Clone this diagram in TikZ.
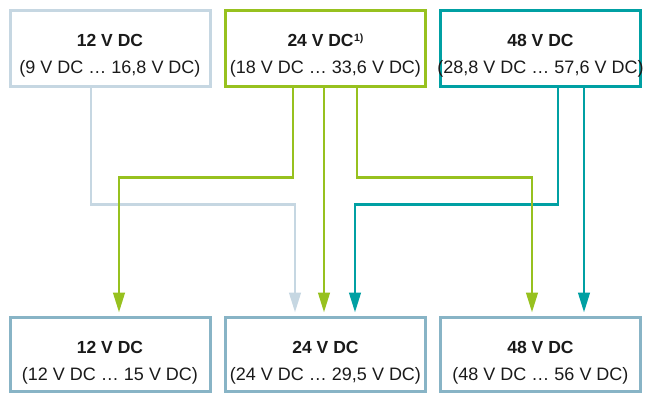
\documentclass[tikz,border=0pt]{standalone}
\usepackage{fontspec}
\setmainfont{Liberation Sans}
\usetikzlibrary{arrows.meta,calc}
\definecolor{cgrey}{HTML}{C6D7E2}
\definecolor{cgreen}{HTML}{97C11F}
\definecolor{cteal}{HTML}{00A0A3}
\definecolor{cblue}{HTML}{88B4C6}
\definecolor{ctext}{HTML}{1A1A1A}
\begin{document}
\begin{tikzpicture}[x=1pt,y=-1pt,
  box/.style={draw, line width=3pt, minimum width=200pt, minimum height=75.7pt, inner sep=0pt},
  dbox/.style={draw=cblue, line width=3pt, minimum width=200pt, minimum height=74pt, inner sep=0pt},
  ttl/.style={font=\fontsize{17.5}{20}\selectfont\bfseries, text=ctext, anchor=base, inner sep=0pt},
  sub/.style={font=\fontsize{18}{20}\selectfont, text=ctext, anchor=base, inner sep=0pt},
  conn/.style={line width=2.9pt, -{Triangle[length=20pt,width=11.5pt]}, shorten >=3.3pt},
]
\useasboundingbox (0,0) rectangle (651,394);
% top boxes
\node[box, draw=cgrey]  (s12) at (110,48.8) {};
\node[box, draw=cgreen] (s24) at (325.5,48.8) {};
\node[box, draw=cteal]  (s48) at (540.5,48.8) {};
\node[ttl] (s12t) at (110,46.5) {12 V DC};
\node[sub] (s12s) at (110,73) {(9 V DC … 16,8 V DC)};
\node[ttl] (s24t) at (325.5,46.5) {24 V DC\kern0.5pt\raisebox{5pt}{\fontsize{10.5}{10}\selectfont 1)}};
\node[sub] (s24s) at (325.5,73) {(18 V DC … 33,6 V DC)};
\node[ttl] (s48t) at (540.5,46.5) {48 V DC};
\node[sub] (s48s) at (540.5,73) {(28,8 V DC … 57,6 V DC)};
% bottom boxes
\node[dbox] (d12) at (110,354.3) {};
\node[dbox] (d24) at (325.5,354.3) {};
\node[dbox] (d48) at (540.5,354.3) {};
\node[ttl] (d12t) at (110,353.5) {12 V DC};
\node[sub] (d12s) at (110,380.5) {(12 V DC … 15 V DC)};
\node[ttl] (d24t) at (325.5,353.5) {24 V DC};
\node[sub] (d24s) at (325.5,380.5) {(24 V DC … 29,5 V DC)};
\node[ttl] (d48t) at (540.5,353.5) {48 V DC};
\node[sub] (d48s) at (540.5,380.5) {(48 V DC … 56 V DC)};
% connectors
\draw[conn, cgrey]  ($(s12.south)+(-19,0)$) -- ++(0,116) -| ($(d24.north)+(-30.5,0)$);
\draw[conn, cteal]  ($(s48.south)+(17.5,0)$) -- ++(0,116) -| ($(d24.north)+(29.5,0)$);
\draw[conn, cteal]  ($(s48.south)+(43.5,0)$) -- ($(d48.north)+(43.5,0)$);
\draw[conn, cgreen] ($(s24.south)+(-32.5,0)$) -- ++(0,89) -| ($(d12.north)+(9,0)$);
\draw[conn, cgreen] ($(s24.south)+(-1.5,0)$) -- ($(d24.north)+(-1.5,0)$);
\draw[conn, cgreen] ($(s24.south)+(31.5,0)$) -- ++(0,89) -| ($(d48.north)+(-8.5,0)$);
\end{tikzpicture}
\end{document}
